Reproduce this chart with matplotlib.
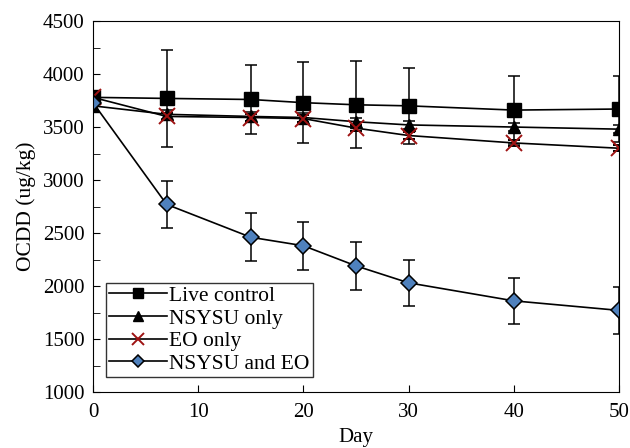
import matplotlib
matplotlib.use('Agg')
import matplotlib.pyplot as plt
import numpy as np

plt.rcParams['font.family'] = ['Liberation Serif', 'DejaVu Serif']

days = [0, 7, 15, 20, 25, 30, 40, 50]

live      = [3780, 3770, 3760, 3730, 3710, 3700, 3660, 3670]
live_err  = [0, 460, 330, 380, 410, 360, 320, 310]
nsysu     = [3700, 3620, 3600, 3590, 3550, 3520, 3500, 3480]
nsysu_err = [0, 40, 40, 40, 40, 40, 40, 40]
eo        = [3780, 3600, 3590, 3580, 3490, 3420, 3350, 3300]
eo_err    = [0, 30, 30, 30, 30, 30, 30, 30]
both      = [3730, 2770, 2460, 2380, 2190, 2030, 1860, 1770]
both_err  = [0, 220, 225, 225, 225, 220, 220, 220]

fig = plt.figure(figsize=(6.3, 4.48), dpi=100)
ax = fig.add_axes([0.1476, 0.125, 0.835, 0.828])

eb = dict(ecolor='black', elinewidth=1.1, capsize=4, capthick=1.1)

h1 = ax.errorbar(days, live, yerr=live_err, color='black', lw=1.2, marker='s',
                 ms=10, mfc='black', mec='black', label='Live control', **eb)
h2 = ax.errorbar(days, nsysu, yerr=nsysu_err, color='black', lw=1.2, marker='^',
                 ms=9, mfc='black', mec='black', label='NSYSU only', **eb)
h3 = ax.errorbar(days, eo, yerr=eo_err, color='black', lw=1.2, marker='x',
                 ms=12, mew=1.4, mec='#9E1212', label='EO only', **eb)
h4 = ax.errorbar(days, both, yerr=both_err, color='black', lw=1.2, marker='D',
                 ms=8, mfc='#4F81BD', mec='black', mew=1.1, label='NSYSU and EO', **eb)

ax.set_xlim(0, 50)
ax.set_ylim(1000, 4500)
ax.set_xticks(np.arange(0, 51, 10))
ax.set_yticks(np.arange(1000, 4501, 500))
ax.set_yticks(np.arange(1000, 4501, 250), minor=True)
ax.tick_params(direction='in', labelsize=15, length=5, top=False, right=False)
ax.tick_params(which='minor', direction='in', length=5, right=False)
ax.tick_params(axis='x', pad=8)
ax.tick_params(axis='y', pad=6)

ax.set_xlabel('Day', fontsize=15, labelpad=4)
ax.set_ylabel('OCDD (ug/kg)', fontsize=15.5, labelpad=5)

handles = [h[0] for h in (h1, h2, h3, h4)]
labels = ['Live control', 'NSYSU only', 'EO only', 'NSYSU and EO']
leg = ax.legend(handles, labels, loc='lower left', bbox_to_anchor=(0.024, 0.04),
                fontsize=15.5, frameon=True, fancybox=False, edgecolor='black',
                handlelength=2.7, borderpad=0.15, labelspacing=0.12,
                handletextpad=0.1, markerscale=0.75, borderaxespad=0)
leg.get_frame().set_linewidth(1.0)

plt.savefig('out.png', dpi=100)
